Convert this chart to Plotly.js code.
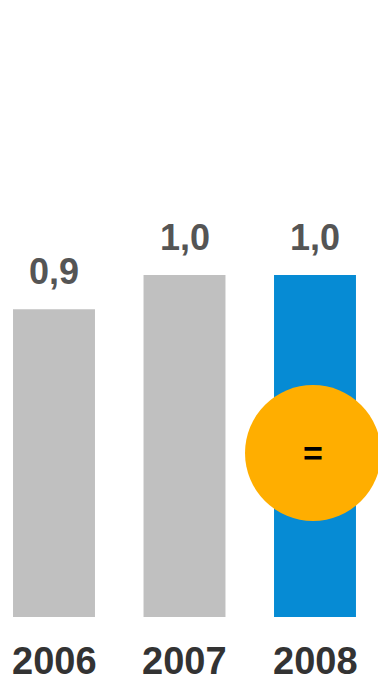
<!DOCTYPE html>
<html><head><meta charset="utf-8">
<script src="https://cdn.plot.ly/plotly-3.0.1.min.js"></script>
<style>html,body{margin:0;padding:0;background:#fff}#chart{width:378px;height:677px}</style>
</head><body><div id="chart"></div>
<script>
var years = ["2006", "2007", "2008"];
var values = [0.9, 1.0, 1.0];
var valueLabels = ["0,9", "1,0", "1,0"];
var barColors = ["#c0c0c0", "#c0c0c0", "#068bd4"];
var badgeText = "=";

var W = 378, H = 677, B = 60;
var plotH = H - B;
function py(p){ return (617 - p) / plotH; }

var annotations = [];
for (var i = 0; i < years.length; i++) {
  annotations.push({x: i, y: values[i], xref: 'x', yref: 'y', text: '<b>' + valueLabels[i] + '</b>',
    showarrow: false, yanchor: 'middle', yshift: 38,
    font: {family: 'Liberation Sans, Arial, sans-serif', size: 36, color: '#555555'}});
  annotations.push({x: i, y: 0, xref: 'x', yref: 'paper', text: '<b>' + years[i] + '</b>',
    showarrow: false, yanchor: 'middle', yshift: -44,
    font: {family: 'Liberation Sans, Arial, sans-serif', size: 38, color: '#333333'}});
}
annotations.push({x: 313 / W, y: py(453), xref: 'paper', yref: 'paper', text: '<b>' + badgeText + '</b>',
  showarrow: false, xanchor: 'center', yanchor: 'middle',
  font: {family: 'Liberation Sans, Arial, sans-serif', size: 34, color: '#000000'}});

Plotly.newPlot('chart', [{
  type: 'bar', x: years, y: values, width: 0.628,
  marker: {color: barColors}, hoverinfo: 'none'
}], {
  width: W, height: H,
  margin: {l: 0, r: 0, t: 0, b: B},
  paper_bgcolor: '#ffffff', plot_bgcolor: '#ffffff',
  showlegend: false,
  xaxis: {type: 'category', range: [-0.4138, 2.4828], showticklabels: false, showgrid: false, zeroline: false, showline: false, ticks: ''},
  yaxis: {range: [0, 617 / 342], showticklabels: false, showgrid: false, zeroline: false, showline: false, ticks: ''},
  shapes: [{type: 'circle', xref: 'paper', yref: 'paper', x0: 245 / W, x1: 381 / W, y0: py(521), y1: py(385),
    fillcolor: '#ffae00', line: {width: 0}, layer: 'above'}],
  annotations: annotations
}, {staticPlot: true});
</script></body></html>
